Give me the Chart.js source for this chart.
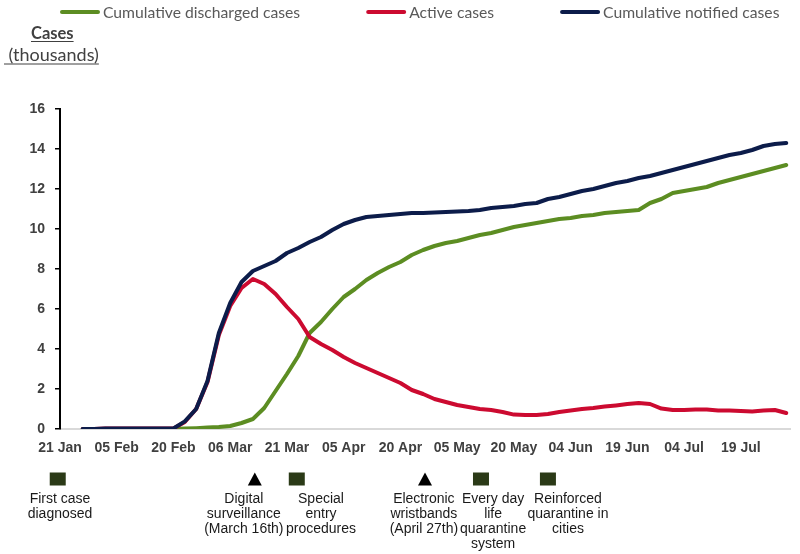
<!DOCTYPE html>
<html><head><meta charset="utf-8">
<script src="https://cdn.jsdelivr.net/npm/chart.js@4.4.1/dist/chart.umd.min.js"></script>
<style>html,body{margin:0;padding:0;background:#fff}#wrap{width:800px;height:554px}</style>
</head><body><div id="wrap"><canvas id="c" width="800" height="554"></canvas></div>
<script>
// Day index: 0 = 21 Jan
const days = [6,9,12,15,18,21,24,27,30,33,36,39,42,45,48,51,54,57,60,63,66,69,72,75,78,81,84,87,90,93,96,99,102,105,108,111,114,117,120,123,126,129,132,135,138,141,144,147,150,153,156,159,162,165,168,171,174,177,180,183,186,189,192];
const discharged = [0,0,0,0,0,0,0,0,0,0.02,0.04,0.07,0.1,0.15,0.3,0.5,1.05,1.9,2.75,3.65,4.8,5.35,6.0,6.6,7.0,7.45,7.8,8.1,8.35,8.7,8.95,9.15,9.3,9.4,9.55,9.7,9.8,9.95,10.1,10.2,10.3,10.4,10.5,10.55,10.65,10.7,10.8,10.85,10.9,10.95,11.3,11.5,11.8,11.9,12.0,12.1,12.3,12.45,12.6,12.75,12.9,13.05,13.2];
const active = [0,0,0.02,0.03,0.03,0.03,0.03,0.03,0.03,0.35,1.0,2.35,4.7,6.15,7.05,7.5,7.25,6.75,6.1,5.5,4.6,4.25,3.95,3.6,3.3,3.05,2.8,2.55,2.3,1.95,1.75,1.5,1.35,1.2,1.1,1.0,0.95,0.85,0.72,0.7,0.7,0.75,0.85,0.92,1.0,1.05,1.12,1.18,1.25,1.3,1.25,1.02,0.95,0.95,0.97,0.97,0.93,0.92,0.9,0.88,0.92,0.95,0.8];
const notified = [0,0,0.02,0.03,0.03,0.03,0.03,0.03,0.03,0.38,1.0,2.4,4.8,6.3,7.35,7.9,8.15,8.4,8.8,9.05,9.35,9.6,9.95,10.25,10.45,10.6,10.65,10.7,10.75,10.8,10.8,10.82,10.85,10.87,10.9,10.95,11.05,11.1,11.15,11.25,11.3,11.5,11.6,11.75,11.9,12.0,12.15,12.3,12.4,12.55,12.65,12.8,12.95,13.1,13.25,13.4,13.55,13.7,13.8,13.95,14.15,14.25,14.3];

const tickDays = [0,15,30,45,60,75,90,105,120,135,150,165,180];
const tickLabels = ['21 Jan','05 Feb','20 Feb','06 Mar','21 Mar','05 Apr','20 Apr','05 May','20 May','04 Jun','19 Jun','04 Jul','19 Jul'];
const yTicks = [0,2,4,6,8,10,12,14,16];

const seriesNames = ['Cumulative discharged cases','Active cases','Cumulative notified cases'];
const seriesColors = ['#5c8d22','#cc0a30','#0c1c4a'];

const eventTexts = [
  ['First case','diagnosed'],
  ['Digital','surveillance','(March 16th)'],
  ['Special','entry','procedures'],
  ['Electronic','wristbands','(April 27th)'],
  ['Every day','life','quarantine','system'],
  ['Reinforced','quarantine in','cities']
];
const eventMarkers = ['square','triangle','square','triangle','square','square'];
const eventMarkerDays = [-0.6,51.5,62.6,96.5,111.3,129];
const eventTextDays = [0,48.6,69,96.2,114.5,134.3];

const titleLine1 = 'Cases';
const titleLine2 = ' (thousands)';

function pts(arr){ return days.map((d,i)=>({x:d,y:arr[i]})); }

const decor = {
  id:'decor',
  afterDraw(chart){
    const ctx = chart.ctx;
    ctx.save();
    // legend
    ctx.font = '15.7px Lato';
    ctx.textBaseline = 'middle';
    ctx.textAlign = 'left';
    let x = 60;
    const ly = 12;
    chart.data.datasets.forEach((ds)=>{
      ctx.strokeStyle = ds.borderColor;
      ctx.lineWidth = 4;
      ctx.lineCap = 'round';
      ctx.beginPath(); ctx.moveTo(x+2, ly); ctx.lineTo(x+38, ly); ctx.stroke();
      ctx.fillStyle = '#595959';
      ctx.fillText(ds.label, x+43, ly+1);
      x += 43 + ctx.measureText(ds.label).width + 66;
    });
    // y title
    ctx.fillStyle = '#404040';
    ctx.strokeStyle = '#404040';
    ctx.lineWidth = 1;
    ctx.lineCap = 'butt';
    ctx.font = 'bold 16.5px Lato';
    ctx.textAlign = 'left';
    ctx.fillText(titleLine1, 31, 34);
    let w = ctx.measureText(titleLine1).width;
    ctx.beginPath(); ctx.moveTo(31, 41.5); ctx.lineTo(31+w, 41.5); ctx.stroke();
    ctx.font = '18px Lato';
    ctx.fillText(titleLine2, 4, 55);
    w = ctx.measureText(titleLine2).width;
    ctx.beginPath(); ctx.moveTo(4, 64); ctx.lineTo(4+w, 64); ctx.stroke();
    // events
    const xs = chart.scales.x;
    const my = 479;
    eventMarkers.forEach((m,i)=>{
      const px = xs.getPixelForValue(eventMarkerDays[i]);
      if(m==='square'){
        ctx.fillStyle = '#2b3a17';
        ctx.fillRect(px-8, my-6.5, 16, 13);
      } else {
        ctx.fillStyle = '#000';
        ctx.beginPath(); ctx.moveTo(px, my-6.5); ctx.lineTo(px+7, my+6.5); ctx.lineTo(px-7, my+6.5); ctx.closePath(); ctx.fill();
      }
      const tx = xs.getPixelForValue(eventTextDays[i]);
      ctx.fillStyle = '#1a1a1a';
      ctx.font = '14px "Liberation Sans", Arial, sans-serif';
      ctx.textAlign = 'center';
      ctx.textBaseline = 'middle';
      eventTexts[i].forEach((t,j)=>{ ctx.fillText(t, tx, 499.5 + j*14.8); });
    });
    ctx.restore();
  }
};

const tickFont = {family:'"Liberation Sans", Arial, sans-serif', size:14, weight:'bold'};

new Chart(document.getElementById('c'), {
  type:'line',
  data:{ datasets:[
    {label:seriesNames[0], data:pts(discharged), borderColor:seriesColors[0], borderWidth:4, pointRadius:0, tension:0, order:2, borderJoinStyle:'round', borderCapStyle:'round'},
    {label:seriesNames[1], data:pts(active), borderColor:seriesColors[1], borderWidth:4, pointRadius:0, tension:0, order:1, borderJoinStyle:'round', borderCapStyle:'round'},
    {label:seriesNames[2], data:pts(notified), borderColor:seriesColors[2], borderWidth:4, pointRadius:0, tension:0, order:0, borderJoinStyle:'round', borderCapStyle:'round'}
  ]},
  options:{
    responsive:false, animation:false, devicePixelRatio:1,
    layout:{padding:{top:109, right:10, left:0, bottom:0}},
    plugins:{legend:{display:false}, tooltip:{enabled:false}},
    scales:{
      x:{type:'linear', min:0, max:193,
        afterBuildTicks:s=>{ s.ticks = tickDays.map(v=>({value:v})); },
        ticks:{callback:(v,i)=>tickLabels[i], font:tickFont, color:'#404040', padding:11, maxRotation:0, autoSkip:false},
        grid:{display:false, drawTicks:false},
        border:{display:true, color:'#d9d9d9', width:2},
        afterFit:s=>{ s.height = 125; }
      },
      y:{min:0, max:16,
        afterBuildTicks:s=>{ s.ticks = yTicks.map(v=>({value:v})); },
        ticks:{font:tickFont, color:'#404040', padding:10},
        grid:{display:true, drawOnChartArea:false, drawTicks:true, tickLength:5, color:'#000', lineWidth:1.5},
        border:{display:true, color:'#000', width:2},
        afterFit:s=>{ s.width = 60; }
      }
    }
  },
  plugins:[decor]
});
</script></body></html>
